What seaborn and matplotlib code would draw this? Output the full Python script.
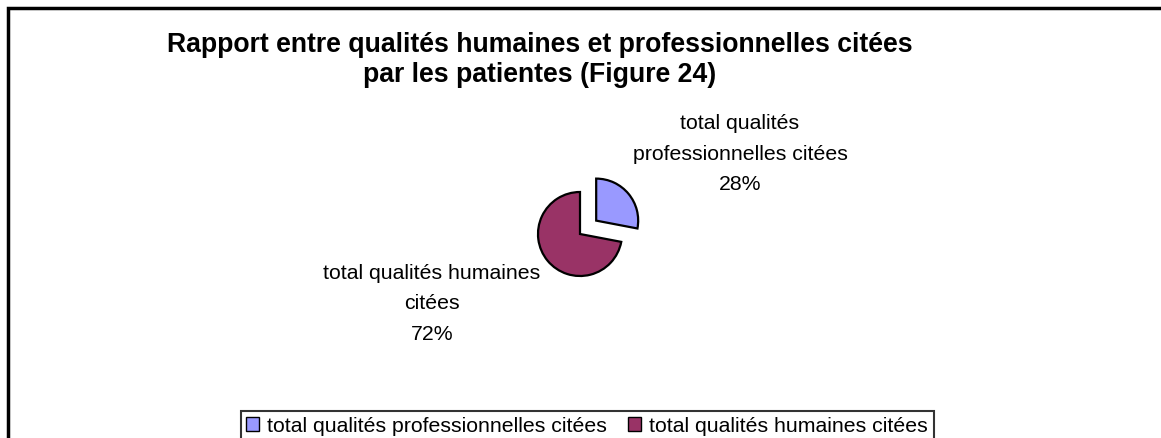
import matplotlib
matplotlib.use('Agg')
import matplotlib.pyplot as plt
import seaborn as sns
from matplotlib.patches import Rectangle

# data
categories = ['total qualités professionnelles citées', 'total qualités humaines citées']
slice_labels = ['total qualités\nprofessionnelles citées', 'total qualités humaines\ncitées']
values = [28, 72]
colors = ['#9999FF', '#993366']

sns.set_style('white')
plt.rcParams['font.family'] = ['Liberation Sans', 'DejaVu Sans']
plt.rcParams['text.color'] = 'black'

W, H = 1161, 439
fig = plt.figure(figsize=(W / 100, H / 100), dpi=100)

# pie axes: centre at (580, 235) px, radius ~42 px
cx, cy, r = 580, H - 235, 42
k = 3
ax = fig.add_axes([(cx - k * r) / W, (cy - k * r) / H, 2 * k * r / W, 2 * k * r / H])
wedges, _ = ax.pie(values, colors=colors, startangle=90, counterclock=False,
                   explode=[0.5, 0], radius=1,
                   wedgeprops=dict(edgecolor='black', linewidth=1.6))
ax.set_xlim(-k, k)
ax.set_ylim(-k, k)
ax.set_aspect('equal')
ax.axis('off')

# slice labels
pct = [f'{v}%' for v in values]
fig.text(740 / W, 1 - 154 / H, f'{slice_labels[0]}\n{pct[0]}', ha='center', va='center',
         fontsize=15.3, linespacing=1.75)
fig.text(432 / W, 1 - 304 / H, f'{slice_labels[1]}\n{pct[1]}', ha='center', va='center',
         fontsize=15.3, linespacing=1.75)

# title
fig.text(540 / W, 1 - 60 / H,
         'Rapport entre qualités humaines et professionnelles citées\npar les patientes (Figure 24)',
         ha='center', va='center', fontsize=19.2, fontweight='bold', linespacing=1.25)

# legend
leg = fig.legend(wedges, categories, loc='center', bbox_to_anchor=(587 / W, 1 - 427 / H),
                 ncol=2, fontsize=15.3, frameon=True, fancybox=False, edgecolor='black',
                 handlelength=0.6, handleheight=0.6, handletextpad=0.4, columnspacing=1.0,
                 borderpad=0.25)
leg.get_frame().set_linewidth(1.5)
for h in leg.legend_handles:
    h.set_linewidth(1.0)

# chart border (cropped at right and bottom)
fig.add_artist(Rectangle((7.5 / W, -0.1), 2, 1.1 - 9 / H, transform=fig.transFigure,
                         fill=False, edgecolor='black', linewidth=2.5))

fig.savefig('out.png', dpi=100, facecolor='white')
